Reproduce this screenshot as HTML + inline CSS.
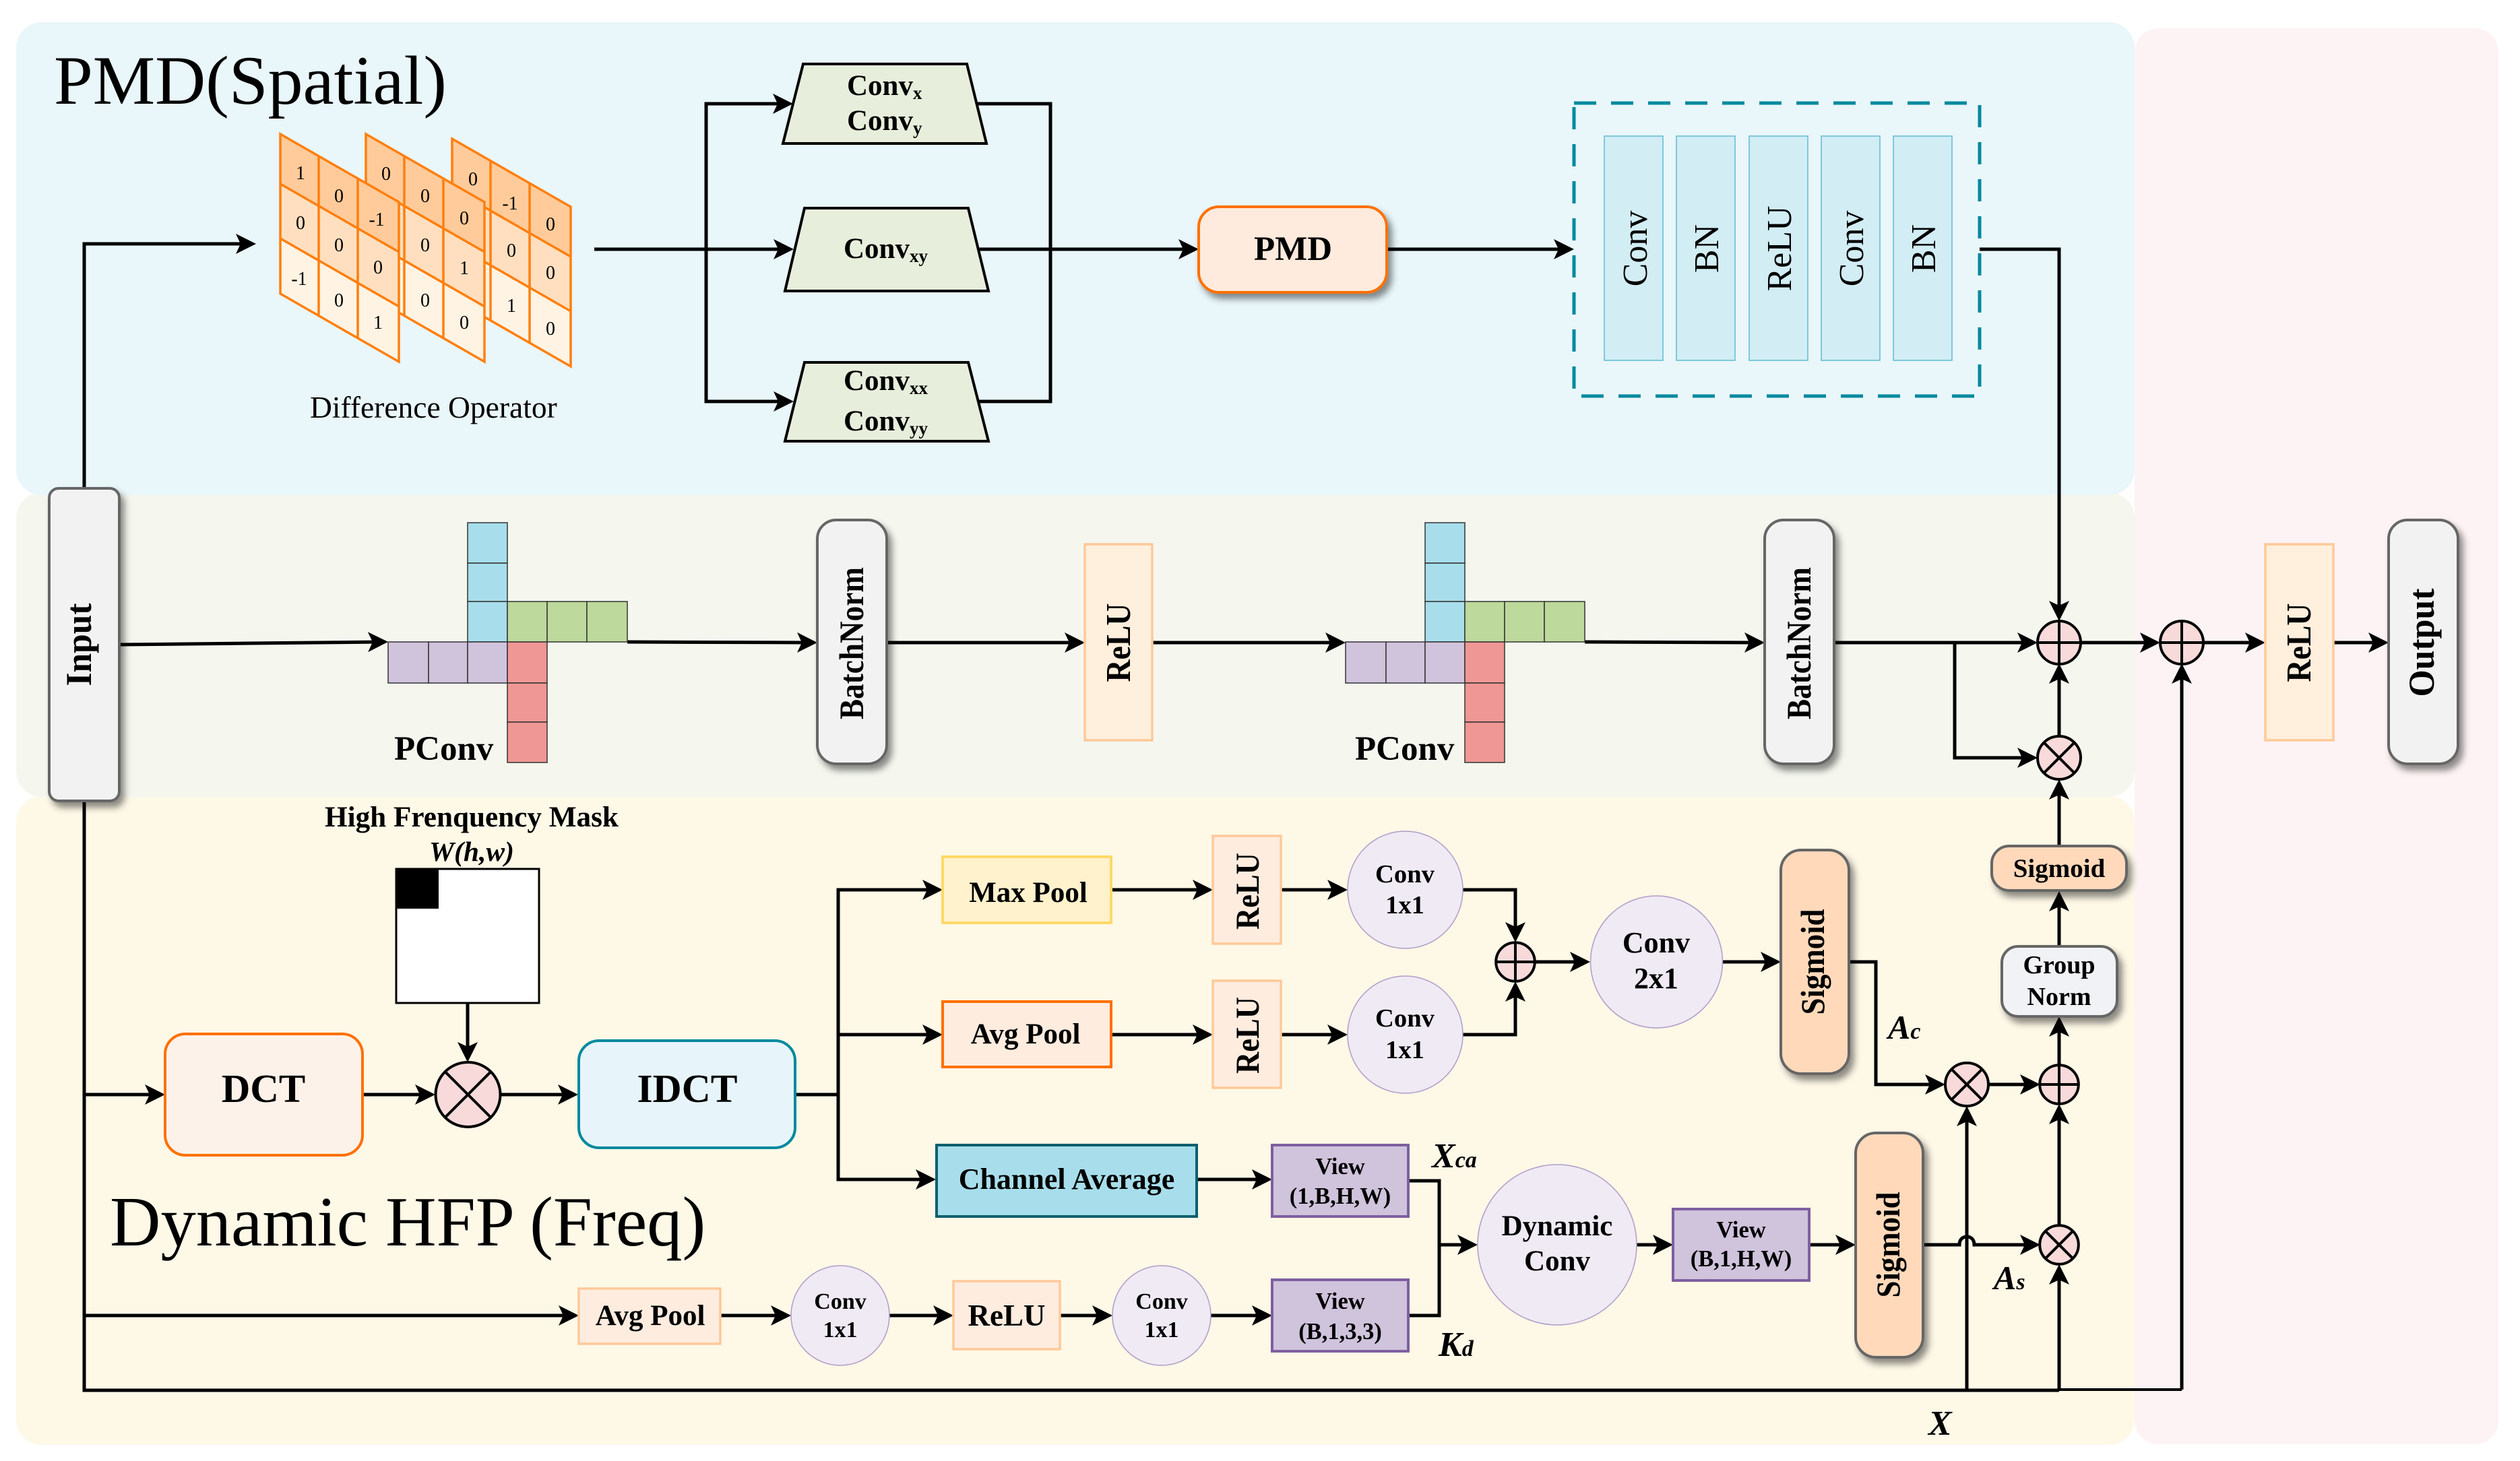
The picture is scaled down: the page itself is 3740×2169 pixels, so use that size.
<!DOCTYPE html>
<html><head><meta charset="utf-8"><style>
html,body{margin:0;padding:0;background:#fff}
svg{display:block}
text{font-family:"Liberation Serif",serif;fill:#000}
.b{font-weight:bold}
.m{text-anchor:middle}
.l{fill:none;stroke:#000;stroke-width:5;stroke-linejoin:miter}
.a{marker-end:url(#ah)}
.sub{font-size:27px;font-weight:bold}
</style></head><body>
<svg width="3740" height="2169" viewBox="0 0 3740 2169" xmlns="http://www.w3.org/2000/svg">
<defs>
<marker id="ah" markerUnits="userSpaceOnUse" markerWidth="32" markerHeight="34" refX="18" refY="16" orient="auto"><path d="M0 1L30 16L0 31L7 16z" fill="#000"/></marker>
<filter id="sh" x="-30%" y="-30%" width="160%" height="160%"><feDropShadow dx="6" dy="8" stdDeviation="5" flood-color="#000" flood-opacity=".45"/></filter>
<g id="plus"><circle r="32" fill="#F8DADA" stroke="#000" stroke-width="4" vector-effect="non-scaling-stroke"/><path d="M-32 0H32M0 -32V32" stroke="#000" stroke-width="4" vector-effect="non-scaling-stroke"/></g>
<g id="times"><circle r="32" fill="#F8DADA" stroke="#000" stroke-width="4" vector-effect="non-scaling-stroke"/><path d="M-22.6 -22.6L22.6 22.6M-22.6 22.6L22.6 -22.6" stroke="#000" stroke-width="4" vector-effect="non-scaling-stroke"/></g>
<g id="panel"><polygon points="0,0 176,101 176,175 0,74" fill="#FFCB9B"/><polygon points="0,74 176,175 176,256 0,155" fill="#FFDFBF"/><polygon points="0,155 176,256 176,338 0,237" fill="#FFF3E3"/><path d="M0 0L176 101V338L0 237zM0 74L176 175M0 155L176 256M57 33V270M115 66V303" fill="none" stroke="#FF7F0E" stroke-width="3.5"/></g>
<g id="pconv"><g stroke="#333" stroke-width="1.5"><rect x="694" y="776" width="59" height="60" fill="#A8DEEB"/><rect x="694" y="836" width="59" height="57" fill="#A8DEEB"/><rect x="694" y="893" width="59" height="60" fill="#A8DEEB"/><rect x="753" y="893" width="59" height="60" fill="#BDD99B"/><rect x="812" y="893" width="59" height="60" fill="#BDD99B"/><rect x="871" y="893" width="60" height="60" fill="#BDD99B"/><rect x="576" y="953" width="60" height="61" fill="#D0C3DC"/><rect x="636" y="953" width="58" height="61" fill="#D0C3DC"/><rect x="694" y="953" width="59" height="61" fill="#D0C3DC"/><rect x="753" y="953" width="59" height="61" fill="#EF9794"/><rect x="753" y="1014" width="59" height="58" fill="#EF9794"/><rect x="753" y="1072" width="59" height="60" fill="#EF9794"/></g></g>
</defs>
<rect width="3740" height="2169" fill="#fff"/>
<rect x="3168" y="42" width="540" height="2102" rx="35" fill="#FDF3F4"/>
<rect x="24" y="1182" width="3144" height="963" rx="38" fill="#FEF8E7"/>
<rect x="24" y="731" width="3144" height="452" rx="38" fill="#F5F7EF"/>
<rect x="24" y="33" width="3144" height="702" rx="38" fill="#E9F6FA"/>
<text x="80" y="154" font-size="103" textLength="583" lengthAdjust="spacingAndGlyphs">PMD(Spatial)</text>
<text x="163" y="1849" font-size="104.5">Dynamic HFP (Freq)</text>
<!-- connectors -->
<path class="l a" d="M125 726V362H368"/>
<path class="l" d="M125 1188V2064H3056"/>
<path d="M3056 2063H3238" stroke="#000" stroke-width="4" fill="none"/>
<path class="l a" d="M3238 2063V997"/>
<path class="l a" d="M882 370H1166"/>
<path class="l a" d="M1048 596V154H1165"/>
<path class="l a" d="M1048 370V596H1166"/>
<path class="l" d="M1449 154H1559V596H1452"/>
<path class="l a" d="M1453 370H1767"/>
<path class="l a" d="M2058 370H2324"/>
<path class="l a" d="M2938 370H3056V910"/>
<path class="l a" d="M177 957L564 953"/>
<path class="l a" d="M931 953L1201 954"/>
<path class="l a" d="M1316 954H1598"/>
<path class="l a" d="M1710 954H1985"/>
<path class="l a" d="M2352 953L2607 954"/>
<path class="l a" d="M2722 954H3012"/>
<path class="l a" d="M2901 954V1125H3012"/>
<path class="l a" d="M3056 1093V997"/>
<path class="l a" d="M3088 954H3194"/>
<path class="l a" d="M3269 954H3350"/>
<path class="l a" d="M3463 954H3533"/>
<path class="l a" d="M3056 1256V1169"/>
<path class="l a" d="M3056 1405V1335"/>
<path class="l a" d="M3056 1581V1521"/>
<path class="l a" d="M2951 1610H3016"/>
<path class="l a" d="M3056 1819V1651"/>
<path class="l a" d="M3056 2064V1889"/>
<path class="l a" d="M2919 2064V1654"/>
<path class="l a" d="M2743 1428H2784V1610H2875"/>
<path class="l a" d="M2854 1848H2908C2908 1839 2914 1836 2919 1836C2924 1836 2930 1839 2930 1848H3016"/>
<path class="l a" d="M125 1625H233"/>
<path class="l a" d="M538 1625H634"/>
<path class="l a" d="M743 1625H846"/>
<path class="l a" d="M694 1489V1565"/>
<path class="l" d="M1180 1625H1244"/>
<path class="l a" d="M1244 1536V1321H1387"/>
<path class="l a" d="M1244 1536H1387"/>
<path class="l a" d="M1244 1536V1751H1377"/>
<path class="l a" d="M1649 1321H1788"/>
<path class="l a" d="M1901 1321H1988"/>
<path class="l a" d="M1649 1536H1788"/>
<path class="l a" d="M1901 1536H1988"/>
<path class="l a" d="M2171 1321H2249V1387"/>
<path class="l a" d="M2171 1536H2249V1469"/>
<path class="l a" d="M2278 1428H2348"/>
<path class="l a" d="M2557 1428H2631"/>
<path class="l a" d="M1776 1751H1876"/>
<path class="l a" d="M125 1953H847"/>
<path class="l a" d="M1069 1953H1162"/>
<path class="l a" d="M1320 1953H1403"/>
<path class="l a" d="M1573 1953H1639"/>
<path class="l a" d="M1797 1953H1876"/>
<path class="l" d="M2090 1753H2136V1953H2090"/>
<path class="l a" d="M2136 1848H2181"/>
<path class="l a" d="M2429 1848H2471"/>
<path class="l a" d="M2685 1848H2742"/>
<!-- difference operator -->
<use href="#panel" transform="translate(671,206)"/>
<use href="#panel" transform="translate(543,199)"/>
<use href="#panel" transform="translate(416,199)"/>
<g class="m" font-size="28" text-anchor="middle">
<text x="446" y="266">1</text><text x="503" y="300">0</text><text x="559" y="335">-1</text>
<text x="446" y="340">0</text><text x="503" y="373">0</text><text x="561" y="406">0</text>
<text x="444" y="423">-1</text><text x="503" y="455">0</text><text x="561" y="488">1</text>
<text x="573" y="267">0</text><text x="631" y="300">0</text><text x="631" y="373">0</text><text x="631" y="455">0</text>
<text x="689" y="333">0</text><text x="689" y="407">1</text><text x="689" y="488">0</text>
<text x="702" y="275">0</text><text x="757" y="311">-1</text><text x="759" y="381">0</text><text x="759" y="463">1</text>
<text x="817" y="342">0</text><text x="817" y="414">0</text><text x="817" y="497">0</text>
</g>
<text x="460" y="620" font-size="45.5">Difference Operator</text>
<!-- trapezoids -->
<g fill="#E7EFDC" stroke="#000" stroke-width="4">
<polygon points="1192,95 1435,95 1464,213 1162,213"/>
<polygon points="1194,309 1437,309 1467,432 1165,432"/>
<polygon points="1194,538 1437,538 1467,655 1165,655"/>
</g>
<g class="b" font-size="43">
<text x="1257" y="141">Conv<tspan class="sub" dy="6">x</tspan></text>
<text x="1257" y="193">Conv<tspan class="sub" dy="6">y</tspan></text>
<text x="1252" y="383">Conv<tspan class="sub" dy="6">xy</tspan></text>
<text x="1252" y="579">Conv<tspan class="sub" dy="6">xx</tspan></text>
<text x="1252" y="639">Conv<tspan class="sub" dy="6">yy</tspan></text>
</g>
<rect x="1779" y="307" width="279" height="127" rx="30" fill="#FEEBDD" stroke="#FF7000" stroke-width="4" filter="url(#sh)"/>
<text x="1919" y="386" class="b m" font-size="51">PMD</text>
<!-- dashed block -->
<rect x="2336" y="153" width="602" height="435" fill="none" stroke="#00899E" stroke-width="5" stroke-dasharray="33 22"/>
<g fill="#D2EDF4" stroke="#5FBCD0" stroke-width="1.5">
<rect x="2381" y="202" width="87" height="333"/><rect x="2488" y="202" width="87" height="333"/><rect x="2596" y="202" width="87" height="333"/><rect x="2703" y="202" width="87" height="333"/><rect x="2810" y="202" width="87" height="333"/>
</g>
<g class="m" font-size="52">
<text transform="translate(2444,369) rotate(-90)">Conv</text>
<text transform="translate(2550,369) rotate(-90)">BN</text>
<text transform="translate(2658,369) rotate(-90)">ReLU</text>
<text transform="translate(2765,369) rotate(-90)">Conv</text>
<text transform="translate(2872,369) rotate(-90)">BN</text>
</g>
<!-- input row -->
<use href="#pconv"/>
<use href="#pconv" transform="translate(1421,0)"/>
<text x="585" y="1128" class="b" font-size="51">PConv</text>
<text x="2011" y="1128" class="b" font-size="51">PConv</text>
<g fill="#F2F2F2" stroke="#666" stroke-width="4" filter="url(#sh)">
<rect x="73" y="725" width="104" height="464" rx="14"/>
<rect x="1213" y="772" width="103" height="362" rx="28"/>
<rect x="2619" y="772" width="103" height="362" rx="28"/>
<rect x="3545" y="772" width="103" height="362" rx="28"/>
</g>
<g class="b m">
<text transform="translate(135,957) rotate(-90)" font-size="54" textLength="123" lengthAdjust="spacingAndGlyphs">Input</text>
<text transform="translate(1281,955) rotate(-90)" font-size="51" textLength="226" lengthAdjust="spacingAndGlyphs">BatchNorm</text>
<text transform="translate(2687,955) rotate(-90)" font-size="51" textLength="226" lengthAdjust="spacingAndGlyphs">BatchNorm</text>
<text transform="translate(3612,954) rotate(-90)" font-size="54" textLength="161" lengthAdjust="spacingAndGlyphs">Output</text>
</g>
<g fill="#FFEFDC" stroke="#FFC999" stroke-width="3.5">
<rect x="1610" y="808" width="100" height="291"/><rect x="3362" y="808" width="101" height="291"/>
</g>
<g class="b m" font-size="52">
<text transform="translate(1677,954) rotate(-90)" textLength="117" lengthAdjust="spacingAndGlyphs">ReLU</text>
<text transform="translate(3429,954) rotate(-90)" textLength="117" lengthAdjust="spacingAndGlyphs">ReLU</text>
</g>
<use href="#plus" transform="translate(3056,954)"/>
<use href="#plus" transform="translate(3238,954)"/>
<use href="#times" transform="translate(3056,1125)"/>
<!-- mask and DCT -->
<text x="482" y="1227" class="b" font-size="43.2">High Frenquency Mask</text>
<text x="637" y="1278" class="b" font-size="41.6" font-style="italic">W(h,w)</text>
<rect x="588" y="1290" width="212" height="199" fill="#fff" stroke="#000" stroke-width="3"/>
<rect x="588" y="1290" width="63" height="59" fill="#000"/>
<rect x="245" y="1535" width="293" height="180" rx="30" fill="#FDF2EA" stroke="#FF7000" stroke-width="4"/>
<text x="391" y="1636" class="b m" font-size="59">DCT</text>
<rect x="859" y="1545" width="321" height="159" rx="30" fill="#E7F5FA" stroke="#00899E" stroke-width="4"/>
<text x="1020" y="1636" class="b m" font-size="59.6">IDCT</text>
<use href="#times" transform="translate(694.5,1625) scale(1.5)"/>
<!-- pools -->
<rect x="1399" y="1272" width="250" height="98" fill="#FFF2CC" stroke="#FFD966" stroke-width="4"/>
<text x="1526" y="1339" class="b m" font-size="43">Max Pool</text>
<rect x="1399" y="1487" width="250" height="97" fill="#FEECDF" stroke="#FF7000" stroke-width="4"/>
<text x="1522" y="1549" class="b m" font-size="43">Avg Pool</text>
<g fill="#FEECDF" stroke="#FFC999" stroke-width="3.5">
<rect x="1800" y="1241" width="101" height="160"/><rect x="1800" y="1456" width="101" height="159"/>
<rect x="859" y="1913" width="210" height="82"/><rect x="1415" y="1902" width="158" height="101"/>
</g>
<g class="b m" font-size="50">
<text transform="translate(1868,1323) rotate(-90)" textLength="114" lengthAdjust="spacingAndGlyphs">ReLU</text>
<text transform="translate(1868,1537) rotate(-90)" textLength="114" lengthAdjust="spacingAndGlyphs">ReLU</text>
</g>
<text x="965" y="1967" class="b m" font-size="43">Avg Pool</text>
<text x="1494" y="1968" class="b m" font-size="45">ReLU</text>
<g fill="#EFEAF4" stroke="#B09CC8" stroke-width="1.5">
<ellipse cx="2085.5" cy="1321" rx="85.5" ry="87"/><ellipse cx="2085.5" cy="1536" rx="85.5" ry="87"/>
<ellipse cx="2458.5" cy="1428" rx="98" ry="98"/><ellipse cx="2311" cy="1848" rx="118" ry="119"/>
<ellipse cx="1247" cy="1953" rx="73" ry="74"/><ellipse cx="1724" cy="1953" rx="73" ry="74"/>
</g>
<g class="b m" font-size="38.6">
<text x="2085" y="1310">Conv</text><text x="2085" y="1356">1x1</text>
<text x="2085" y="1524">Conv</text><text x="2085" y="1571">1x1</text>
</g>
<g class="b m" font-size="44"><text x="2458" y="1414">Conv</text><text x="2458" y="1467">2x1</text></g>
<g class="b m" font-size="43"><text x="2311" y="1834">Dynamic</text><text x="2311" y="1886">Conv</text></g>
<g class="b m" font-size="34">
<text x="1247" y="1943">Conv</text><text x="1247" y="1985">1x1</text>
<text x="1724" y="1943">Conv</text><text x="1724" y="1985">1x1</text>
</g>
<use href="#plus" transform="translate(2249,1428) scale(.9)"/>
<rect x="1390" y="1700" width="386" height="106" fill="#A8DEEB" stroke="#0E5F6E" stroke-width="4"/>
<text x="1583" y="1765" class="b m" font-size="44">Channel Average</text>
<g fill="#D0C3DC" stroke="#7E5FA0" stroke-width="4">
<rect x="1888" y="1700" width="202" height="106"/><rect x="1888" y="1900" width="202" height="106"/><rect x="2483" y="1795" width="202" height="106"/>
</g>
<g class="b m" font-size="34.5">
<text x="1989" y="1743">View</text><text x="1989" y="1787">(1,B,H,W)</text>
<text x="1989" y="1943">View</text><text x="1989" y="1988">(B,1,3,3)</text>
<text x="2584" y="1837">View</text><text x="2584" y="1880">(B,1,H,W)</text>
</g>
<g class="b" font-style="italic">
<text x="2125" y="1733" font-size="52">X<tspan font-size="34">ca</tspan></text>
<text x="2135" y="2013" font-size="52">K<tspan font-size="34">d</tspan></text>
<text x="2802" y="1542" font-size="50">A<tspan font-size="34">c</tspan></text>
<text x="2959" y="1914" font-size="50">A<tspan font-size="34">s</tspan></text>
<text x="2862" y="2130" font-size="52">X</text>
</g>
<!-- right stack -->
<g fill="#FFD9BA" stroke="#666" stroke-width="4" filter="url(#sh)">
<rect x="2643" y="1262" width="101" height="332" rx="30"/>
<rect x="2754" y="1682" width="100" height="333" rx="30"/>
<rect x="2956" y="1256" width="200" height="66" rx="26"/>
</g>
<rect x="2971" y="1405" width="171" height="104" rx="24" fill="#F0F2F5" stroke="#666" stroke-width="4" filter="url(#sh)"/>
<g class="b m">
<text transform="translate(2707,1428) rotate(-90)" font-size="50" textLength="157" lengthAdjust="spacingAndGlyphs">Sigmoid</text>
<text transform="translate(2819,1848) rotate(-90)" font-size="50" textLength="157" lengthAdjust="spacingAndGlyphs">Sigmoid</text>
<text x="3056" y="1302" font-size="39">Sigmoid</text>
<text x="3056" y="1445" font-size="38">Group</text>
<text x="3056" y="1492" font-size="38">Norm</text>
</g>
<use href="#times" transform="translate(2919,1610)"/>
<use href="#plus" transform="translate(3056,1610) scale(.9)"/>
<use href="#times" transform="translate(3056,1848) scale(.9)"/>
</svg>
</body></html>
